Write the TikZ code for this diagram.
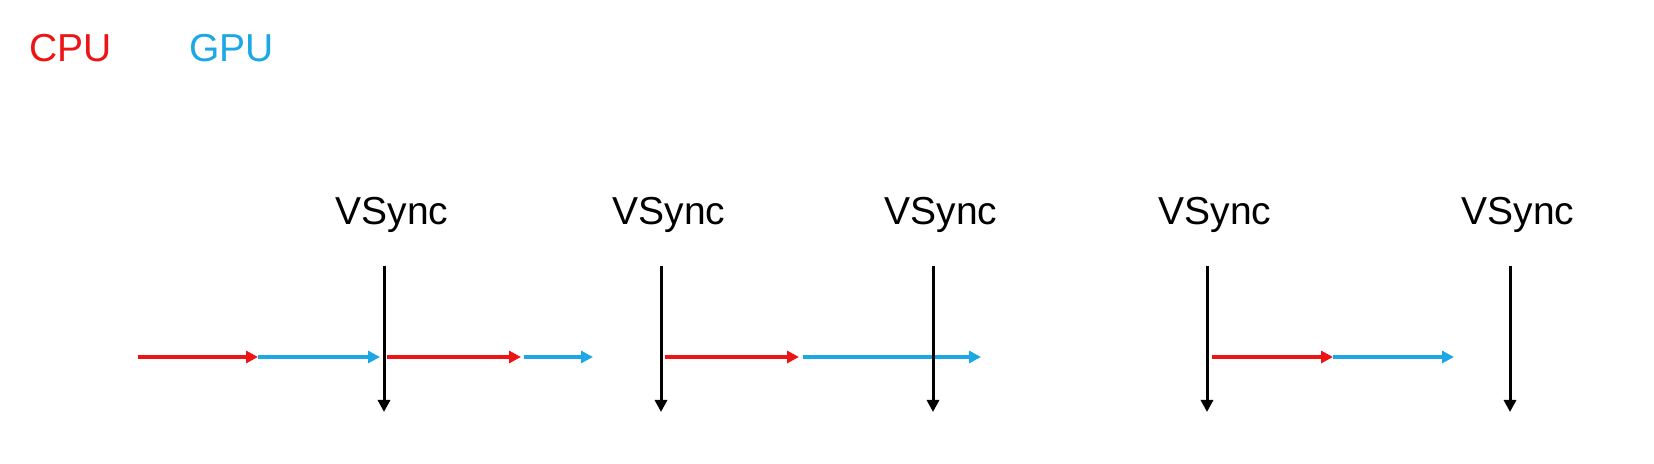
\documentclass[tikz,border=0pt]{standalone}
\usepackage{fontspec}
\setmainfont{Liberation Sans}
\usepackage{xcolor}
\usetikzlibrary{arrows.meta}
\definecolor{cpured}{RGB}{236,20,20}
\definecolor{gpublue}{RGB}{27,168,228}

\begin{document}
\begin{tikzpicture}[x=0.5pt,y=-0.5pt,
    lbl/.style={inner sep=0pt,font=\fontsize{19.5pt}{23pt}\selectfont},
    vsyncline/.style={draw=black,line width=1.5pt,-{Triangle[length=6pt,width=6pt]}},
    cpuarrow/.style={draw=cpured,line width=2pt,-{Triangle[length=6pt,width=6pt]}},
    gpuarrow/.style={draw=gpublue,line width=2pt,-{Triangle[length=6pt,width=6pt]}}]
    \useasboundingbox (0,0) rectangle (1654,464);

    % Legend
    \node[lbl,text=cpured,anchor=base west] (legcpu) at (29,62) {CPU};
    \node[lbl,text=gpublue,anchor=base west] (leggpu) at (189,62) {GPU};

    % Frames
    \foreach \a/\b/\s [count=\i] in {138/258/cpuarrow, 258/380/gpuarrow, 387/521/cpuarrow, 524/593/gpuarrow,
        665/799/cpuarrow, 803/981/gpuarrow, 1212/1333/cpuarrow, 1333/1454/gpuarrow} {
        \coordinate (fs\i) at (\a,357); % start
        \coordinate (fe\i) at (\b,357); % end
        \draw[\s] (fs\i) -- (fe\i);
    }

    % VSync markers
    \foreach \x [count=\i] in {384,661,933,1207,1510} {
        \node[lbl,anchor=base] (vs\i) at (\x+8,225) {VSync};
        \coordinate (vt\i) at (\x,266); % top
        \coordinate (vb\i) at (\x,412); % bottom
        \draw[vsyncline] (vt\i) -- (vb\i);
    }
\end{tikzpicture}
\end{document}
